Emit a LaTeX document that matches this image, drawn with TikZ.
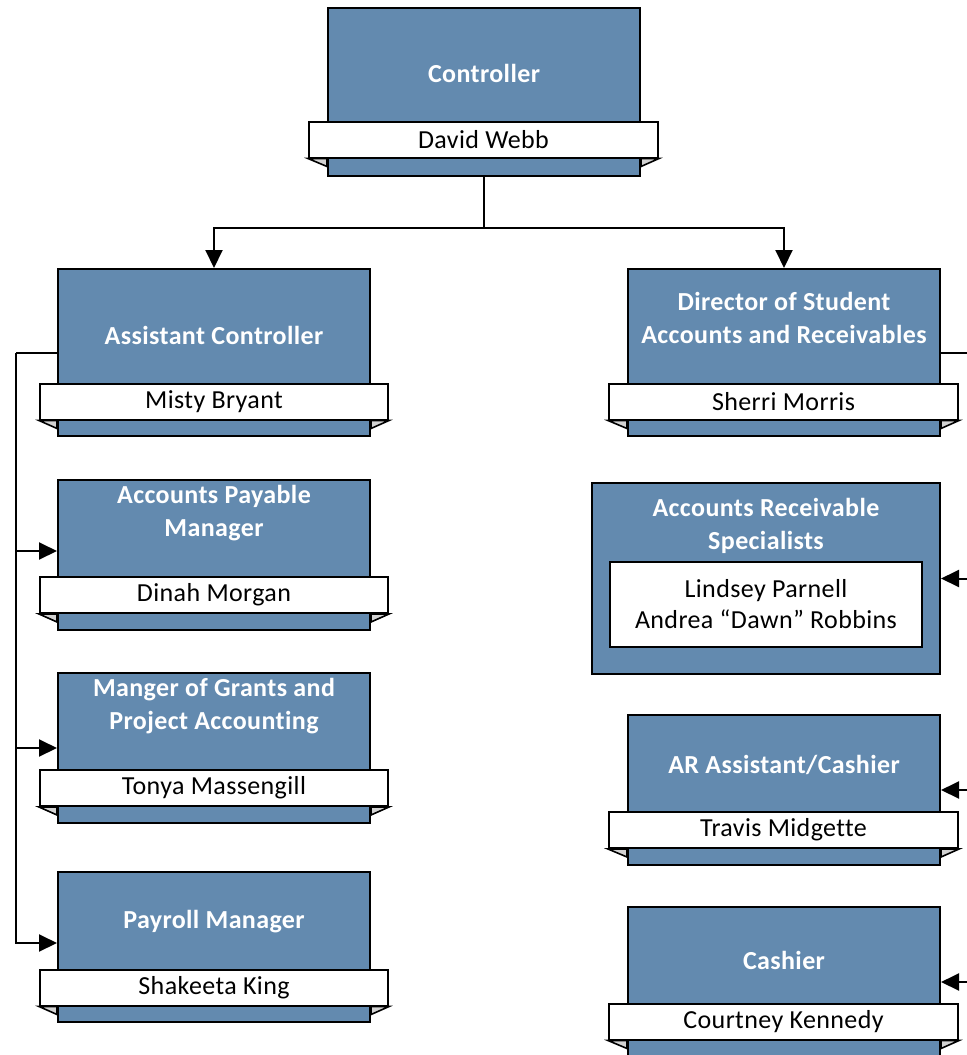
\documentclass[tikz,border=0pt]{standalone}
\usepackage{fontspec}
\setmainfont[Ligatures=NoCommon, LetterSpace=1.5]{Carlito}
\usepackage{tikz}
\usetikzlibrary{arrows.meta}
\definecolor{postblue}{RGB}{99,138,175}
\tikzstyle{post} = [rectangle, draw=black, line width=1pt, fill=postblue, inner sep=0pt]
\tikzstyle{title} = [text=white, font=\fontsize{13}{16.5}\selectfont\bfseries, align=center]
\tikzstyle{banner} = [rectangle, draw=black, line width=1pt, fill=white, inner sep=0pt, minimum height=18pt, font=\fontsize{13}{15.5}\selectfont]
\tikzstyle{fold} = [draw=black, line width=0.8pt, fill=gray!35]
\tikzstyle{line} = [line width=1pt]
\tikzstyle{arrow} = [line width=1pt,-{Triangle[length=9pt,width=8.5pt]}]

\begin{document}
\begin{tikzpicture}[x=0.5pt,y=-0.5pt]
\useasboundingbox (0,0) rectangle (967,1055);

% controller
\node (ctl) [post, minimum width=156pt, minimum height=84pt] at (484,92) {};
\node (ctlt) [title] at (484,73) {Controller};
\node (ctln) [banner, minimum width=174.5pt] at (483.5,139.5) {David Webb};

% left column
\node (ast) [post, minimum width=156pt, minimum height=83.5pt] at (214,352.5) {};
\node (astt) [title] at (214,335) {Assistant Controller};
\node (astn) [banner, minimum width=174pt] at (214,401.5) {Misty Bryant};

\node (apm) [post, minimum width=156pt, minimum height=75pt] at (214,555) {};
\node (apmt) [title] at (214,513) {Accounts Payable\\Manager};
\node (apmn) [banner, minimum width=174pt] at (214,595) {Dinah Morgan};

\node (gpa) [post, minimum width=156pt, minimum height=75pt] at (214,748) {};
\node (gpat) [title] at (214,706.5) {Manger of Grants and\\Project Accounting};
\node (gpan) [banner, minimum width=174pt] at (214,788) {Tonya Massengill};

\node (pay) [post, minimum width=156pt, minimum height=75pt] at (214,947) {};
\node (payt) [title] at (214,922) {Payroll Manager};
\node (payn) [banner, minimum width=174pt] at (214,987.5) {Shakeeta King};

% right column
\node (dir) [post, minimum width=156pt, minimum height=83.5pt] at (784,352.5) {};
\node (dirt) [title] at (784,318) {Director of Student\\Accounts and Receivables};
\node (dirn) [banner, minimum width=174.5pt] at (783.5,401.5) {Sherri Morris};

\node (ars) [post, minimum width=174pt, minimum height=95.5pt] at (766,578.5) {};
\node (arst) [title] at (766,526) {Accounts Receivable\\Specialists};
\node (arsn) [banner, minimum width=156pt, minimum height=42.5pt, align=center] at (766,604.5) {Lindsey Parnell\\Andrea ``Dawn'' Robbins};

\node (ara) [post, minimum width=156pt, minimum height=75pt] at (784,790) {};
\node (arat) [title] at (784,765) {AR Assistant/Cashier};
\node (aran) [banner, minimum width=174.5pt] at (783.5,830) {Travis Midgette};

\node (cas) [post, minimum width=156pt, minimum height=75pt] at (784,982) {};
\node (cast) [title] at (784,960) {Cashier};
\node (casn) [banner, minimum width=174.5pt] at (783.5,1021.5) {Courtney Kennedy};

% banner folds
\foreach \b/\p in {ctln/ctl, astn/ast, apmn/apm, gpan/gpa, payn/pay, dirn/dir, aran/ara, casn/cas} {
  \draw[fold] (\b.south west) -- (\b.south west -| \p.west) -- ([yshift=-4pt]\b.south west -| \p.west) -- cycle;
  \draw[fold] (\b.south east) -- (\b.south east -| \p.east) -- ([yshift=-4pt]\b.south east -| \p.east) -- cycle;
}

% connectors
\coordinate (j1) at (484,228);
\coordinate (lb) at (16,352.5);
\coordinate (rb) at (974,352.5);
\draw [line] (ctl.south) -- (j1);
\draw [arrow] (j1) -| (ast.north);
\draw [arrow] (j1) -| (dir.north);
\draw [line] (ast.west) -- (lb);
\draw [arrow] (lb) |- ([yshift=2pt]apm.west);
\draw [arrow] (lb) |- (gpa.west);
\draw [arrow] (lb) |- ([yshift=2pt]pay.west);
\draw [line] (dir.east) -- (rb);
\draw [arrow] (rb) |- (ars.east);
\draw [arrow] (rb) |- (ara.east);
\draw [arrow] (rb) |- (cas.east);

\end{tikzpicture}
\end{document}
